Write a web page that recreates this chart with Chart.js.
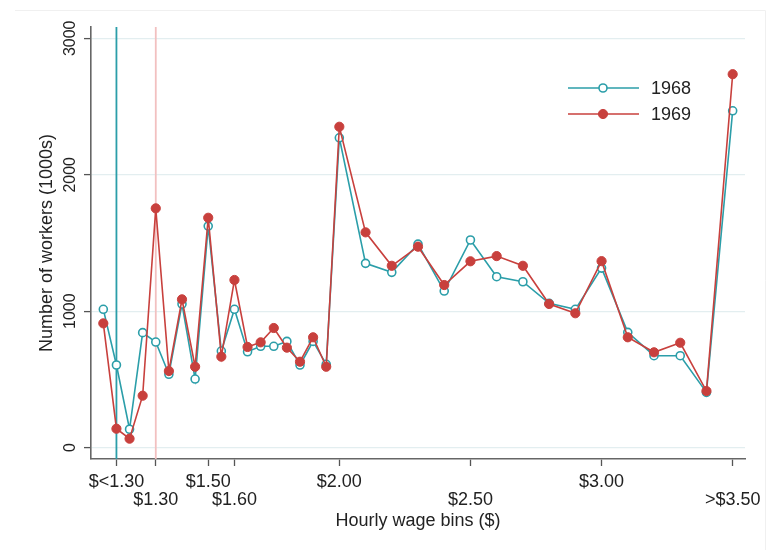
<!DOCTYPE html>
<html><head><meta charset="utf-8">
<script src="https://cdn.jsdelivr.net/npm/chart.js@4/dist/chart.umd.min.js"></script>
<style>html,body{margin:0;padding:0;background:#fff}#wrap{width:779px;height:550px;position:relative}</style>
</head><body><div id="wrap"><canvas id="c" width="779" height="550"></canvas></div>
<script>
// ---- data ----
const wageBins = [1.10,1.15,1.20,1.25,1.30,1.35,1.40,1.45,1.50,1.55,1.60,1.65,1.70,1.75,1.80,1.85,1.90,1.95,2.00,
                  2.10,2.20,2.30,2.40,2.50,2.60,2.70,2.80,2.90,3.00,3.10,3.20,3.30,3.40,3.50];
const workers1968 = [1014,606,135,843,774,538,1053,503,1624,708,1014,703,743,743,779,606,779,611,2271,
                     1351,1285,1492,1148,1522,1253,1216,1058,1014,1316,845,674,674,405,2469];
const workers1969 = [911,139,66,381,1754,562,1087,593,1685,667,1229,738,772,877,733,630,809,593,2352,
                     1578,1333,1473,1192,1366,1404,1333,1053,985,1367,809,699,769,415,2737];
const seriesNames = ['1968','1969'];
const minWageLines = [1.15, 1.30];
const xTickValues = [1.15,1.30,1.50,1.60,2.00,2.50,3.00,3.50];
const xTickLabels = ['$<1.30','$1.30','$1.50','$1.60','$2.00','$2.50','$3.00','>$3.50'];
const xTickRow = [0,1,0,1,0,1,0,1];
const yTickValues = [0,1000,2000,3000];
const xRange = [1.053, 3.547];
const yRange = [-83, 3083];

// ---- styles ----
const TEAL = '#2b9ea9';
const RED = '#c8403d';
const PINK = '#f2c0c0';
const FONT = "'Liberation Sans', Arial, sans-serif";
const TXT = '#222';

const toPts = (xs, ys) => xs.map((x, i) => ({x: x, y: ys[i]}));

const frame = {
  id: 'frame',
  beforeDraw(chart) {
    const ctx = chart.ctx;
    ctx.save();
    ctx.strokeStyle = '#f0f0f0';
    ctx.lineWidth = 1;
    ctx.beginPath();
    ctx.moveTo(15, 10.5); ctx.lineTo(765.5, 10.5); ctx.lineTo(765.5, 550);
    ctx.stroke();
    ctx.restore();
  }
};

const insetLegend = {
  id: 'insetLegend',
  afterDatasetsDraw(chart) {
    const ctx = chart.ctx;
    const ds = chart.data.datasets;
    const rows = [{d: ds[0], y: 88}, {d: ds[1], y: 114}];
    ctx.save();
    rows.forEach(r => {
      ctx.strokeStyle = r.d.borderColor;
      ctx.lineWidth = r.d.borderWidth;
      ctx.beginPath(); ctx.moveTo(568, r.y); ctx.lineTo(639, r.y); ctx.stroke();
      ctx.beginPath(); ctx.arc(603, r.y, r.d.pointRadius, 0, Math.PI * 2);
      ctx.fillStyle = r.d.pointBackgroundColor; ctx.fill();
      ctx.lineWidth = r.d.pointBorderWidth; ctx.strokeStyle = r.d.pointBorderColor; ctx.stroke();
      ctx.fillStyle = TXT;
      ctx.font = '18px ' + FONT;
      ctx.textAlign = 'left'; ctx.textBaseline = 'middle';
      ctx.fillText(r.d.label, 651, r.y + 1);
    });
    ctx.restore();
  }
};

new Chart(document.getElementById('c'), {
  type: 'line',
  data: {
    datasets: [
      { label: seriesNames[0], data: toPts(wageBins, workers1968), borderColor: TEAL, borderWidth: 1.6,
        pointRadius: 4, pointBorderWidth: 1.6, pointBackgroundColor: '#fff', pointBorderColor: TEAL,
        tension: 0, order: 2 },
      { label: seriesNames[1], data: toPts(wageBins, workers1969), borderColor: RED, borderWidth: 1.6,
        pointRadius: 4.6, pointBorderWidth: 1, pointBackgroundColor: RED, pointBorderColor: RED,
        tension: 0, order: 1 },
      { label: 'cut1968', data: [{x: minWageLines[0], y: yRange[0]}, {x: minWageLines[0], y: yRange[1]}],
        borderColor: TEAL, borderWidth: 1.8, pointRadius: 0, order: 5 },
      { label: 'cut1969', data: [{x: minWageLines[1], y: yRange[0]}, {x: minWageLines[1], y: yRange[1]}],
        borderColor: PINK, borderWidth: 1.8, pointRadius: 0, order: 6 }
    ]
  },
  options: {
    responsive: false,
    animation: false,
    layout: { padding: { left: 37, top: 27, right: 34, bottom: 0 }, autoPadding: false },
    plugins: { legend: { display: false }, tooltip: { enabled: false } },
    scales: {
      x: {
        type: 'linear', min: xRange[0], max: xRange[1],
        afterBuildTicks: s => { s.ticks = xTickValues.map(v => ({value: v})); },
        afterFit: s => { s.height = 91; },
        grid: { display: true, drawOnChartArea: false, tickLength: 7, tickColor: '#555', tickWidth: 1.3 },
        border: { color: '#666', width: 1.6 },
        ticks: {
          autoSkip: false, maxRotation: 0, minRotation: 0, padding: 7, color: TXT,
          font: { family: FONT, size: 18, lineHeight: 1 },
          callback: (v, i) => xTickRow[i] ? ['', xTickLabels[i]] : [xTickLabels[i]]
        },
        title: { display: true, text: 'Hourly wage bins ($)', color: TXT,
                 font: { family: FONT, size: 18, lineHeight: 1 }, padding: { top: 0, bottom: 20 } }
      },
      y: {
        type: 'linear', min: yRange[0], max: yRange[1],
        afterBuildTicks: s => { s.ticks = yTickValues.map(v => ({value: v})); },
        afterFit: s => { s.width = 54; },
        grid: { display: true, drawOnChartArea: true, color: '#e3eef0', lineWidth: 1.2,
                tickLength: 7, tickColor: '#555', tickWidth: 1.3 },
        border: { color: '#666', width: 1.6 },
        ticks: {
          autoSkip: false, minRotation: 90, maxRotation: 90, crossAlign: 'center', padding: -4, color: TXT,
          font: { family: FONT, size: 16, lineHeight: 1 },
          callback: v => String(v)
        },
        title: { display: true, text: 'Number of workers (1000s)', color: TXT,
                 font: { family: FONT, size: 18, lineHeight: 1 }, padding: { top: 1, bottom: 0 } }
      }
    }
  },
  plugins: [frame, insetLegend]
});
</script>
</body></html>
